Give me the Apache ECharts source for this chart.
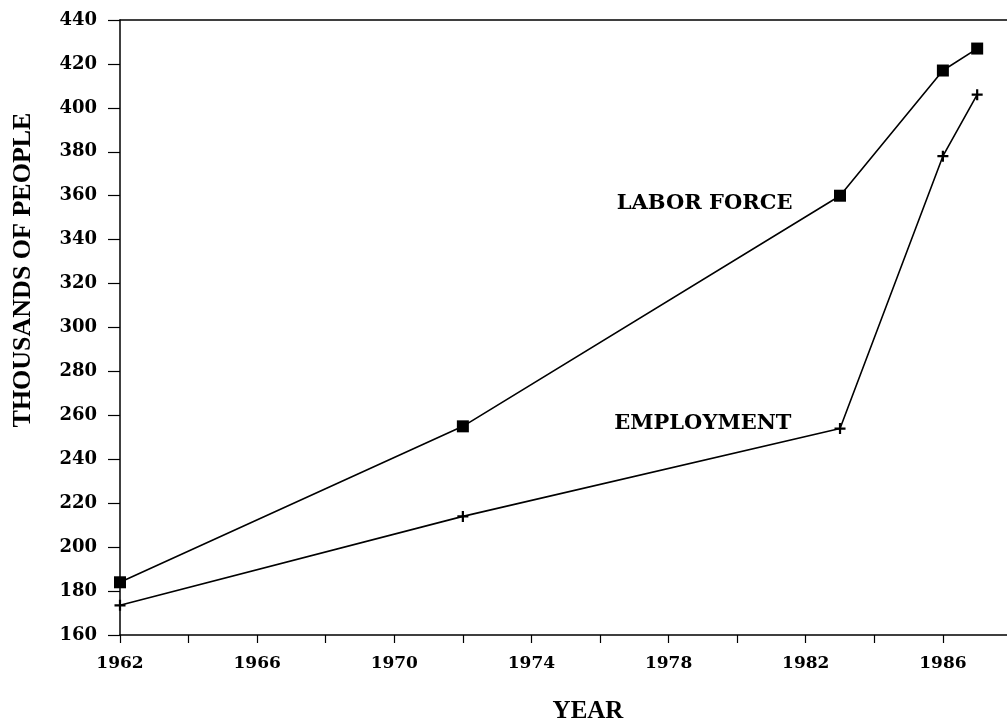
<!DOCTYPE html>
<html>
<head>
<meta charset="utf-8">
<title>Labor force and employment</title>
<script src="https://cdn.jsdelivr.net/npm/echarts@6/dist/echarts.min.js"></script>
<style>
  html, body { margin: 0; padding: 0; background: #fff; }
  #chart { width: 1007px; height: 725px; }
</style>
</head>
<body>
<div id="chart"></div>
<script>
// Data (thousands of people)
var years = [1962, 1972, 1983, 1986, 1987];
var laborForce = [184, 255, 360, 417, 427];
var employment = [173.5, 214, 254, 378, 406];

// Axis settings
var yTicks = [160, 180, 200, 220, 240, 260, 280, 300, 320, 340, 360, 380, 400, 420, 440];
var xLabelYears = [1962, 1966, 1970, 1974, 1978, 1982, 1986];

var myChart = echarts.init(document.getElementById('chart'));

// turn the year / value arrays into [x, y] pairs
function pairs(xs, ys) {
    var out = [];
    for (var i = 0; i < xs.length; i++) {
        out.push([xs[i], ys[i]]);
    }
    return out;
}

var serifFont = '"DejaVu Serif", serif';
var titleFont = '"Liberation Serif", "Times New Roman", serif';

// filled plus sign used as the employment marker
var plusPath = 'path://M4,0h2v4h4v2h-4v4h-2v-4h-4v-2h4z';

// x range: the plot runs off the right edge of the page, so stop a bit short of 1988
var xMin = 1962;
var xMax = 1987.87;

// series name tags, placed in data space
function tag(text, coord) {
    return {
        data: [{ coord: coord }],
        symbol: 'circle',
        symbolSize: 1,
        itemStyle: { color: 'rgba(0,0,0,0)' },
        label: {
            show: true,
            position: 'inside',
            formatter: text,
            color: '#000',
            fontFamily: serifFont,
            fontWeight: 'bold',
            fontSize: 21
        },
        silent: true
    };
}

var axisLineStyle = { color: '#000', width: 1.5 };

var option = {
    animation: false,
    backgroundColor: '#fff',
    grid: {
        left: 120,
        right: 0,
        top: 20,
        bottom: 90
    },
    xAxis: [
        {
            type: 'value',
            min: xMin,
            max: xMax,
            interval: 2,
            axisLine: { show: true, onZero: false, lineStyle: axisLineStyle },
            axisTick: { show: true, inside: false, length: 8, lineStyle: { color: '#000', width: 1.2 } },
            splitLine: { show: false },
            axisLabel: {
                margin: 20,
                color: '#000',
                fontFamily: serifFont,
                fontWeight: 'bold',
                fontSize: 17,
                showMaxLabel: false,
                formatter: function (v) {
                    return xLabelYears.indexOf(v) >= 0 ? String(v) : '';
                }
            }
        },
        {
            // top frame line only
            type: 'value',
            position: 'top',
            min: xMin,
            max: xMax,
            axisLine: { show: true, onZero: false, lineStyle: axisLineStyle },
            axisTick: { show: false },
            axisLabel: { show: false },
            splitLine: { show: false }
        }
    ],
    yAxis: {
        type: 'value',
        min: yTicks[0],
        max: yTicks[yTicks.length - 1],
        interval: 20,
        axisLine: { show: true, onZero: false, lineStyle: axisLineStyle },
        axisTick: { show: true, inside: false, length: 12, lineStyle: { color: '#000', width: 1.2 } },
        splitLine: { show: false },
        axisLabel: {
            margin: 23,
            color: '#000',
            fontFamily: serifFont,
            fontWeight: 'bold',
            fontSize: 18
        }
    },
    graphic: [
        {
            type: 'text',
            x: 588,
            y: 712,
            style: {
                text: 'YEAR',
                fill: '#000',
                font: 'bold 25px ' + titleFont,
                align: 'center',
                verticalAlign: 'middle'
            }
        },
        {
            type: 'text',
            x: 23,
            y: 270,
            rotation: Math.PI / 2,
            style: {
                text: 'THOUSANDS OF PEOPLE',
                fill: '#000',
                font: 'bold 26px ' + titleFont,
                align: 'center',
                verticalAlign: 'middle'
            }
        }
    ],
    series: [
        {
            name: 'Labor force',
            type: 'line',
            data: pairs(years, laborForce),
            symbol: 'rect',
            symbolSize: 12,
            showAllSymbol: true,
            lineStyle: { color: '#000', width: 1.6 },
            itemStyle: { color: '#000' },
            markPoint: tag('LABOR FORCE', [1979.05, 356.4])
        },
        {
            name: 'Employment',
            type: 'line',
            data: pairs(years, employment),
            symbol: plusPath,
            symbolSize: 11,
            showAllSymbol: true,
            lineStyle: { color: '#000', width: 1.6 },
            itemStyle: { color: '#000' },
            markPoint: tag('EMPLOYMENT', [1979.0, 256.4])
        }
    ]
};

myChart.setOption(option);

window.onresize = function () {
    myChart.resize();
};
</script>
</body>
</html>
